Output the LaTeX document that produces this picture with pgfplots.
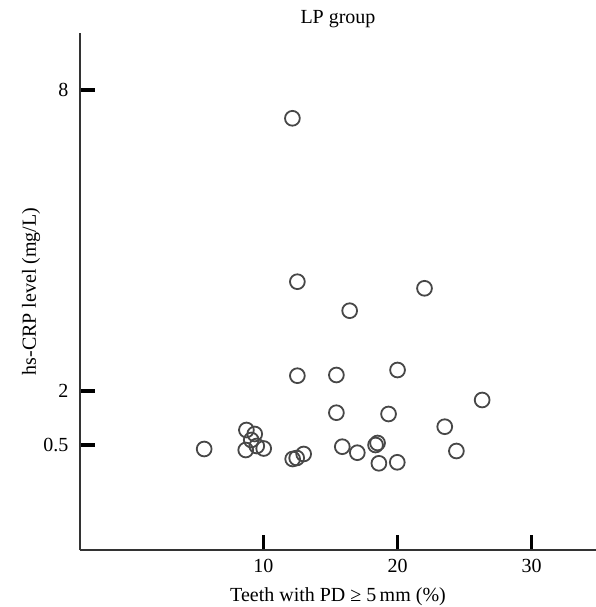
\documentclass[border=0pt]{standalone}
\usepackage{fontspec}
\setmainfont{Liberation Serif}
\usepackage{pgfplots}
\pgfplotsset{compat=1.18}
\begin{document}
\begin{tikzpicture}
\begin{axis}[
  at={(0,0)}, anchor=south west,
  scale only axis, width=516pt, height=517pt,
  xmin=-3.68, xmax=34.8, ymin=0, ymax=517,
  axis lines*=left,
  axis line style={-, line width=2.4pt, black!80},
  xtick={10,20,30}, xticklabels={10,20,30},
  ytick={105,159,460}, yticklabels={0.5,2,8},
  tick align=inside,
  major tick length=15pt,
  every tick/.style={line width=3.3pt, black},
  tick label style={font=\fontsize{20}{24}\selectfont, inner sep=0pt},
  xticklabel style={anchor=base, yshift=-22.7pt},
  yticklabel style={anchor=east, xshift=-11.5pt},
  /pgf/number format/assume math mode=true,
  clip=false,
]
\addplot[only marks, mark=o, mark size=7.4pt,
  mark options={draw=black!72, line width=1.8pt, fill=none}]
  coordinates {
  (12.16,431.7) (12.53,268.3) (22.01,261.7) (16.43,239.3)
  (12.53,174.3) (15.44,175.0) (20.00,180.0) (26.31,150.0)
  (15.44,137.3) (19.33,136.0) (23.52,123.3) (5.58,101.0)
  (8.73,120.0) (9.35,116.0) (9.09,110.0) (8.68,100.0)
  (10.02,101.5) (9.50,104.0) (12.18,91.0) (12.48,92.0)
  (13.00,96.0) (15.88,103.3) (17.00,97.3) (18.36,105.0)
  (18.51,107.0) (18.61,86.7) (19.98,87.7) (24.39,99.0)
  };
\path (rel axis cs:0.5,1) ++(0pt,9pt) node[anchor=base, inner sep=0pt, font=\fontsize{20}{24}\selectfont] {LP group};
\path (rel axis cs:0.5,0) ++(0pt,-51pt) node[anchor=base, inner sep=0pt, font=\fontsize{20}{24}\selectfont] {Teeth with PD ≥ 5\,mm (\%)};
\path (rel axis cs:0,0.5) ++(-44pt,0pt) node[rotate=90, anchor=base, inner sep=0pt, font=\fontsize{20}{24}\selectfont] {hs-CRP level (mg/L)};
\end{axis}
\pgfresetboundingbox
\path[use as bounding box] (-80pt,-57pt) rectangle (516pt,550pt);
\end{tikzpicture}
\end{document}
